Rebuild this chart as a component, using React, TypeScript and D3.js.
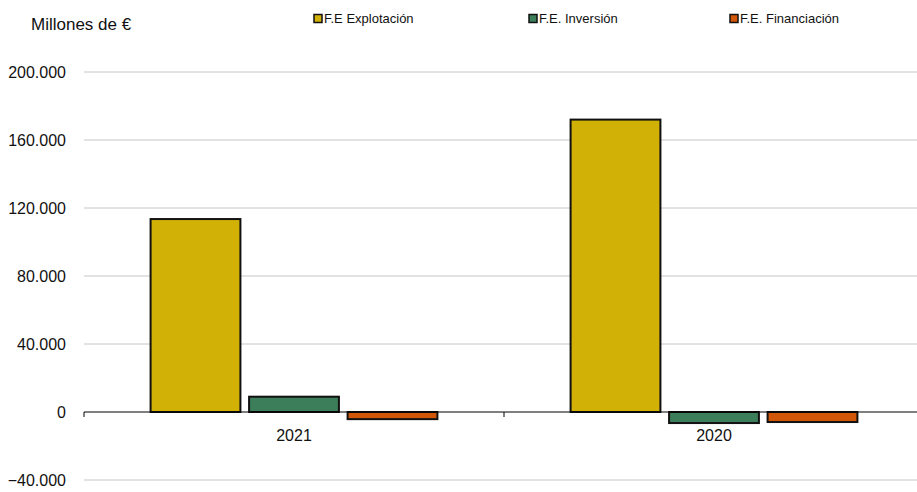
import React from "react";
import * as d3 from "d3";

const categories = ["2021", "2020"];
const seriesNames = ["F.E Explotación", "F.E. Inversión", "F.E. Financiación"];
const explotacion = [113500, 172000];
const inversion = [9000, -6500];
const financiacion = [-4200, -5900];
const seriesColors = ["#D2B107", "#3D7E5A", "#D25608"];
const yTicks = [-40000, 0, 40000, 80000, 120000, 160000, 200000];

const W = 917;
const H = 492;
const FONT = "'Liberation Sans', Arial, sans-serif";

export default function App() {
  const series = [explotacion, inversion, financiacion];
  const x = d3.scaleBand<string>().domain(categories).range([84, 924]).padding(0);
  const inner = d3
    .scaleBand<string>()
    .domain(seriesNames)
    .range([0, x.bandwidth()])
    .paddingInner(0.088)
    .paddingOuter(0.676);
  const y = d3.scaleLinear().domain([-40000, 200000]).range([480, 72]);
  const fmt = (v: number) => d3.format(",")(v).replace(/,/g, ".");
  const legendX = [314, 529, 730];

  return (
    <svg
      width={W}
      height={H}
      style={{ position: "absolute", left: 0, top: 0, background: "#fff" }}
      fontFamily={FONT}
    >
      <rect width={W} height={H} fill="#fff" />
      <text x={31} y={30} fontSize={17} fill="#111">
        Millones de €
      </text>
      {seriesNames.map((s, i) => (
        <g key={s}>
          <rect
            x={legendX[i]}
            y={14.5}
            width={8}
            height={8}
            fill={seriesColors[i]}
            stroke="#111"
            strokeWidth={1.5}
          />
          <text x={legendX[i] + 10} y={23} fontSize={13} fill="#111">
            {s}
          </text>
        </g>
      ))}
      {yTicks.map((t) => (
        <g key={t}>
          {t !== 0 && (
            <line x1={84} x2={W} y1={y(t)} y2={y(t)} stroke="#c6c6c6" strokeWidth={1} />
          )}
          <text
            x={66}
            y={y(t)}
            dy="0.35em"
            textAnchor="end"
            fontSize={16}
            fill="#111"
          >
            {fmt(t)}
          </text>
        </g>
      ))}
      {categories.map((c, ci) =>
        series.map((vals, si) => {
          const v = vals[ci];
          const x0 = (x(c) as number) + (inner(seriesNames[si]) as number);
          return (
            <rect
              key={c + si}
              x={x0}
              y={Math.min(y(v), y(0))}
              width={inner.bandwidth()}
              height={Math.abs(y(v) - y(0))}
              fill={seriesColors[si]}
              stroke="#111"
              strokeWidth={2}
            />
          );
        })
      )}
      <line x1={84} x2={W} y1={y(0)} y2={y(0)} stroke="#000" strokeWidth={1} />
      {[...categories.map((c) => x(c) as number), 924].map((tx, i) => (
        <line key={i} x1={tx} x2={tx} y1={y(0)} y2={y(0) + 5} stroke="#000" strokeWidth={1} />
      ))}
      {categories.map((c) => (
        <text
          key={c}
          x={(x(c) as number) + x.bandwidth() / 2}
          y={441}
          textAnchor="middle"
          fontSize={16}
          fill="#111"
        >
          {c}
        </text>
      ))}
    </svg>
  );
}
